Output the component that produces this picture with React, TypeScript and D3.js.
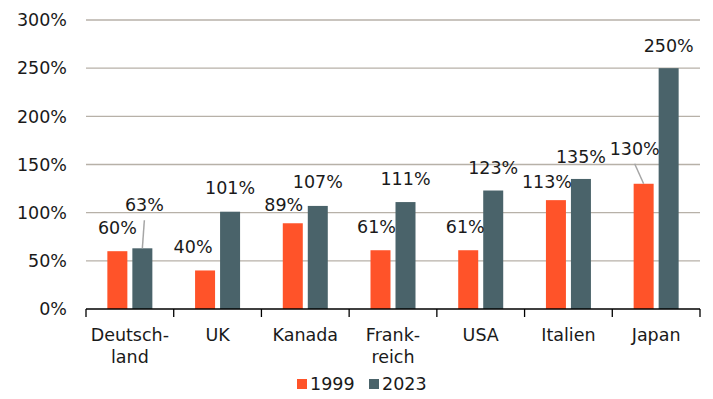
import React from "react";
import * as d3 from "d3";

const categories = ["Deutsch-\nland", "UK", "Kanada", "Frank-\nreich", "USA", "Italien", "Japan"];
const series = ["1999", "2023"];
const values1999 = [0.6, 0.4, 0.89, 0.61, 0.61, 1.13, 1.3];
const values2023 = [0.63, 1.01, 1.07, 1.11, 1.23, 1.35, 2.5];
const yTicks = [0, 0.5, 1, 1.5, 2, 2.5, 3];

// label placement tweaks: [dx, dyFromBarTop]
const labelOffsets1999: [number, number][] = [[0, -17], [-12, -17], [-9, -12], [-4, -17], [-3, -17], [-9, -12], [-9, -29]];
const labelOffsets2023: [number, number][] = [[2, -37], [0, -18], [0, -18], [0, -17], [0, -17], [0, -16], [0, -16]];
const leader1999 = [false, false, false, false, false, false, true];
const leader2023 = [true, false, false, false, false, false, false];

const colors = ["#FF5329", "#4A636A"];
const W = 713, H = 399;
const FONT = "'DejaVu Sans', sans-serif";
const FS = 17.5;

export default function App() {
  const left = 86, right = 700, top = 20, bottom = 309;
  const x0 = d3.scaleBand<string>().domain(categories).range([left, right]).paddingInner(0).paddingOuter(0);
  const y = d3.scaleLinear().domain([0, 3]).range([bottom, top]);
  const bw0 = x0.bandwidth();
  const x1 = d3.scaleBand<string>().domain(series).range([bw0 / 2 - 22.5, bw0 / 2 + 22.5]).paddingInner(0.2).paddingOuter(0);
  const fmt = (v: number) => `${Math.round(v * 100)}%`;
  const data = [values1999, values2023];
  const offs = [labelOffsets1999, labelOffsets2023];
  const leaders = [leader1999, leader2023];

  return (
    <svg width={W} height={H} style={{ position: "absolute", left: 0, top: 0 }} fontFamily={FONT}>
      <rect width={W} height={H} fill="#fff" />
      {yTicks.filter(t => t > 0).map(t => (
        <line key={t} x1={left} x2={right} y1={y(t)} y2={y(t)} stroke="#B7B1A8" strokeWidth={1.3} />
      ))}
      {yTicks.map(t => (
        <text key={t} x={67} y={y(t)} dy="0.36em" textAnchor="end" fontSize={FS} fill="#1a1a1a">{fmt(t)}</text>
      ))}
      {categories.map((c, i) => series.map((s, j) => {
        const v = data[j][i];
        const bx = (x0(c) as number) + (x1(s) as number);
        return <rect key={c + s} x={bx} y={y(v)} width={x1.bandwidth()} height={bottom - y(v)} fill={colors[j]} />;
      }))}
      <line x1={left} x2={right} y1={bottom} y2={bottom} stroke="#000" strokeWidth={1.3} />
      {[...categories.map(c => x0(c) as number), right].map((tx, i) => (
        <line key={i} x1={tx} x2={tx} y1={bottom} y2={bottom + 8} stroke="#000" strokeWidth={1.3} />
      ))}
      {categories.map(c => (
        <text key={c} x={(x0(c) as number) + bw0 / 2} y={341} textAnchor="middle" fontSize={FS} fill="#1a1a1a">
          {c.split("\n").map((ln, k) => (
            <tspan key={k} x={(x0(c) as number) + bw0 / 2} dy={k === 0 ? 0 : 22}>{ln}</tspan>
          ))}
        </text>
      ))}
      {categories.map((c, i) => series.map((s, j) => {
        const v = data[j][i];
        const cx = (x0(c) as number) + (x1(s) as number) + x1.bandwidth() / 2;
        const [dx, dy] = offs[j][i];
        const ly = y(v) + dy;
        return (
          <g key={"l" + c + s}>
            {leaders[j][i] && (
              <line x1={cx + dx} x2={cx} y1={ly + 9} y2={y(v)} stroke="#A6A6A6" strokeWidth={1.5} />
            )}
            <text x={cx + dx} y={ly} textAnchor="middle" fontSize={FS} fill="#1a1a1a">{fmt(v)}</text>
          </g>
        );
      }))}
      {series.map((s, j) => {
        const lx = j === 0 ? 297 : 369;
        return (
          <g key={s}>
            <rect x={lx} y={379} width={10} height={10} fill={colors[j]} />
            <text x={lx + 13} y={390} fontSize={FS} fill="#1a1a1a">{s}</text>
          </g>
        );
      })}
    </svg>
  );
}
